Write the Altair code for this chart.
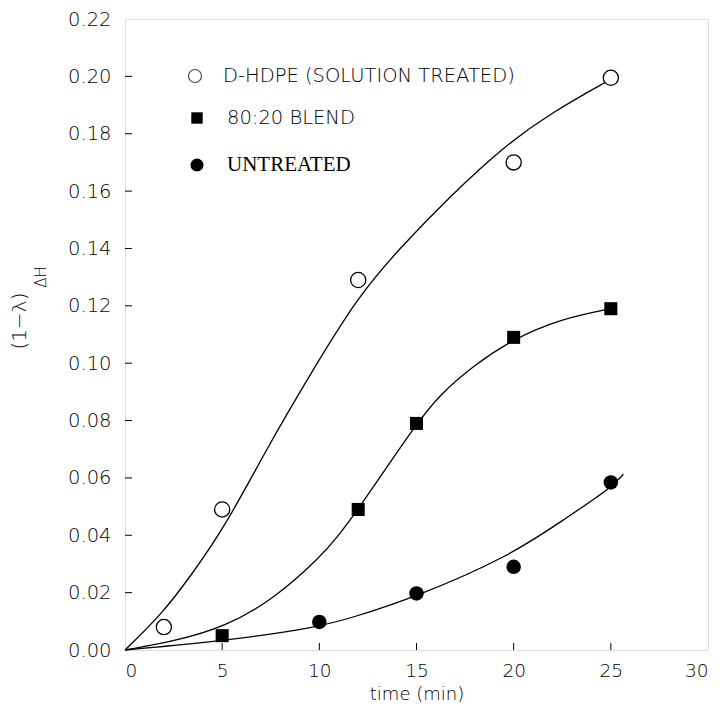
import altair as alt
import pandas as pd

# ---- measured data points ----
open_t = [2, 5, 12, 20, 25]
open_v = [0.008, 0.049, 0.129, 0.170, 0.1995]

blend_t = [5, 12, 15, 20, 25]
blend_v = [0.005, 0.049, 0.079, 0.109, 0.119]

untr_t = [10, 15, 20, 25]
untr_v = [0.0098, 0.0197, 0.029, 0.0584]

# ---- fitted curves ----
open_curve_t = [0, 1.9, 3.4, 5.15, 7.4, 9.4, 12.0, 14.2, 16.7, 19.5, 21.9, 25.0]
open_curve_v = [0, 0.0125, 0.026, 0.043, 0.0715, 0.0946, 0.1235, 0.1405, 0.158, 0.1756, 0.1872, 0.1990]

blend_curve_t = [0, 2.5, 5.15, 7.7, 10.0, 11.0, 12.0, 15.0, 16.2, 17.9, 20.0, 22.4, 25.0]
blend_curve_v = [0, 0.003, 0.008, 0.018, 0.032, 0.040, 0.049, 0.079, 0.089, 0.099, 0.1085, 0.1154, 0.119]

untr_curve_t = [0, 5.15, 9.9, 11.6, 14.9, 19.8, 22.7, 25.0, 25.65]
untr_curve_v = [0, 0.0032, 0.0079, 0.0111, 0.0183, 0.0327, 0.046, 0.0565, 0.0613]

legend_labels = ["D-HDPE (SOLUTION TREATED)", "80:20 BLEND", "UNTREATED"]

x_ticks = [0, 5, 10, 15, 20, 25, 30]
y_ticks = [0.00, 0.02, 0.04, 0.06, 0.08, 0.10, 0.12, 0.14, 0.16, 0.18, 0.20, 0.22]
x_inner_ticks = [5, 10, 15, 20, 25]
y_inner_ticks = [0.02, 0.04, 0.06, 0.08, 0.10, 0.12, 0.14, 0.16, 0.18, 0.20]

W, H = 583, 631
FONT = "DejaVu Sans"

curves = pd.concat([
    pd.DataFrame({"t": open_curve_t, "v": open_curve_v, "s": "open"}),
    pd.DataFrame({"t": blend_curve_t, "v": blend_curve_v, "s": "blend"}),
    pd.DataFrame({"t": untr_curve_t, "v": untr_curve_v, "s": "untr"}),
])
df_open = pd.DataFrame({"t": open_t, "v": open_v})
df_blend = pd.DataFrame({"t": blend_t, "v": blend_v})
df_untr = pd.DataFrame({"t": untr_t, "v": untr_v})

xs = alt.Scale(domain=[0, 30], nice=False, zero=False)
ys = alt.Scale(domain=[0, 0.22], nice=False, zero=False)

X = alt.X("t:Q", scale=xs, axis=alt.Axis(values=x_ticks, title="time  (min)", labelFont=FONT,
          labelFontSize=18.5, labelFontWeight=300, labelPadding=11, labelColor="black", titleFont=FONT,
          titleFontSize=18, titleFontWeight=300, titleColor="black",
          titleBaseline="bottom", titleY=53, domain=False, ticks=False, grid=False))
Y = alt.Y("v:Q", scale=ys, axis=alt.Axis(values=y_ticks, format=".2f", title=None, labelFont=FONT,
          labelFontSize=19.5, labelFontWeight=300, labelPadding=14, labelColor="black",
          domain=False, ticks=False, grid=False))

lines = alt.Chart(curves).mark_line(color="black", strokeWidth=1.3, interpolate="basis").encode(
    x=X, y=Y, detail="s:N")

pts_open = alt.Chart(df_open).mark_point(shape="circle", filled=True, fill="white", stroke="black",
                                         strokeWidth=1.3, size=230, opacity=1).encode(x=X, y=Y)
pts_blend = alt.Chart(df_blend).mark_square(color="black", size=170, opacity=1).encode(x=X, y=Y)
pts_untr = alt.Chart(df_untr).mark_circle(color="black", size=210, opacity=1).encode(x=X, y=Y)

yt = alt.Chart(pd.DataFrame({"v": y_inner_ticks})).mark_rule(color="black", strokeWidth=1).encode(
    y=alt.Y("v:Q", scale=ys), x=alt.value(0), x2=alt.value(7))
xt = alt.Chart(pd.DataFrame({"t": x_inner_ticks})).mark_rule(color="black", strokeWidth=1).encode(
    x=alt.X("t:Q", scale=xs), y=alt.value(H), y2=alt.value(H - 7))

# legend
one = pd.DataFrame({"a": [0]})
leg_sym1 = alt.Chart(one).mark_point(shape="circle", filled=True, fill="white", stroke="black",
                                     strokeWidth=1.2, size=170).encode(x=alt.value(70), y=alt.value(57))
leg_sym2 = alt.Chart(one).mark_square(color="black", size=130, opacity=1).encode(x=alt.value(72), y=alt.value(99))
leg_sym3 = alt.Chart(one).mark_circle(color="black", size=170, opacity=1).encode(x=alt.value(72), y=alt.value(146))
leg_t1 = alt.Chart(pd.DataFrame({"l": [legend_labels[0]]})).mark_text(
    font=FONT, fontSize=19.5, fontWeight=300, align="left", baseline="middle", color="black").encode(
    text="l:N", x=alt.value(98), y=alt.value(57))
leg_t2 = alt.Chart(pd.DataFrame({"l": [legend_labels[1]]})).mark_text(
    font=FONT, fontSize=19.5, fontWeight=300, align="left", baseline="middle", color="black").encode(
    text="l:N", x=alt.value(102), y=alt.value(99))
leg_t3 = alt.Chart(pd.DataFrame({"l": [legend_labels[2]]})).mark_text(
    font="Liberation Serif", fontSize=21, fontWeight="normal", align="left", baseline="middle",
    color="black").encode(text="l:N", x=alt.value(102), y=alt.value(146))

# y title with subscript
yt_main = alt.Chart(pd.DataFrame({"l": ["(1\u2212\u03bb)"]})).mark_text(
    font=FONT, fontSize=20, fontWeight=300, angle=270, align="center", baseline="middle", color="black").encode(
    text="l:N", x=alt.value(-105), y=alt.value(302))
yt_sub = alt.Chart(pd.DataFrame({"l": ["\u0394H"]})).mark_text(
    font=FONT, fontSize=15, fontWeight=300, angle=270, align="center", baseline="middle", color="black").encode(
    text="l:N", x=alt.value(-84), y=alt.value(258))

chart = alt.layer(
    lines, yt, xt, pts_open, pts_blend, pts_untr,
    leg_sym1, leg_sym2, leg_sym3, leg_t1, leg_t2, leg_t3, yt_main, yt_sub
).properties(
    width=W, height=H,
    autosize=alt.AutoSizeParams(type="none"),
    padding={"left": 117, "top": 11, "right": 6, "bottom": 54},
).configure_view(stroke="black", strokeWidth=1.3).configure(background="white")

chart.save("out.html", embed_options={"renderer": "svg", "actions": False})
